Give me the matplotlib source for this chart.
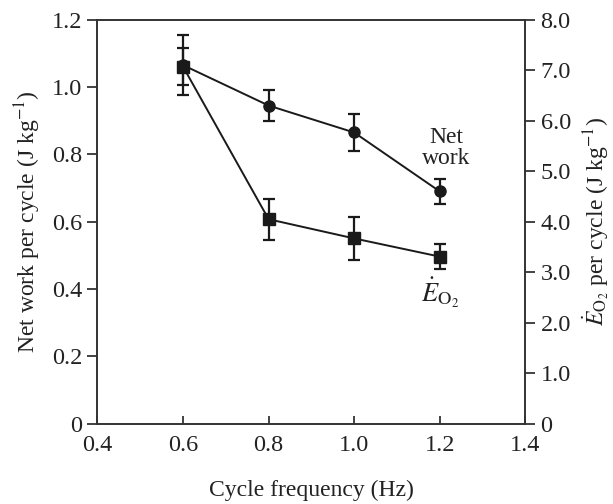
import numpy as np
import matplotlib.pyplot as plt

plt.rcParams['font.family'] = ['Liberation Serif', 'DejaVu Serif']
plt.rcParams['mathtext.fontset'] = 'stix'

freq = [0.6, 0.8, 1.0, 1.2]
net_work = [1.065, 0.945, 0.865, 0.69]
net_work_err = [0.09, 0.047, 0.055, 0.038]
e_o2 = [7.07, 4.05, 3.67, 3.31]
e_o2_err = [0.37, 0.41, 0.42, 0.25]

fig = plt.figure(figsize=(6.13, 5.04), dpi=100)
ax = fig.add_axes([0.159, 0.159, 0.698, 0.802])
ax2 = ax.twinx()

col = '#1a1a1a'
ax.errorbar(freq, net_work, yerr=net_work_err, color=col, marker='o', ms=8,
            lw=1.4, elinewidth=1.6, capsize=4, capthick=1.6, zorder=3)
ax2.errorbar(freq, e_o2, yerr=e_o2_err, color=col, marker='s', ms=8,
             lw=1.4, elinewidth=1.6, capsize=4, capthick=1.6, zorder=3)

ax.set_xlim(0.4, 1.4)
ax.set_ylim(0, 1.2)
ax2.set_ylim(0, 8.0)
ax.set_xticks([0.4, 0.6, 0.8, 1.0, 1.2, 1.4])
ax.set_xticklabels(['0.4', '0.6', '0.8', '1.0', '1.2', '1.4'])
ax.set_yticks([0, 0.2, 0.4, 0.6, 0.8, 1.0, 1.2])
ax.set_yticklabels(['0', '0.2', '0.4', '0.6', '0.8', '1.0', '1.2'])
ax2.set_yticks([0, 1, 2, 3, 4, 5, 6, 7, 8])
ax2.set_yticklabels(['0', '1.0', '2.0', '3.0', '4.0', '5.0', '6.0', '7.0', '8.0'])

for a in (ax, ax2):
    for s in a.spines.values():
        s.set_linewidth(1.2)
        s.set_color('#333333')
ax.tick_params(axis='x', direction='in', length=6, width=1.2, labelsize=17.5, pad=8, colors='#222222')
ax.tick_params(axis='y', direction='out', length=7, width=1.2, labelsize=17.5, pad=4, colors='#222222')
ax2.tick_params(axis='y', direction='out', length=7, width=1.2, labelsize=17.5, pad=4, colors='#222222')

ax.set_xlabel('Cycle frequency (Hz)', fontsize=17, labelpad=17, color='#222222')
ax.set_ylabel('Net work per cycle (J kg$^{-1}$)', fontsize=17, labelpad=6, color='#222222')
ax2.set_ylabel(r'$\dot{E}_{\mathrm{O_2}}$ per cycle (J kg$^{-1}$)', fontsize=17,
               labelpad=7, color='#222222')

ax.text(1.215, 0.82, 'Net\nwork', ha='center', va='center', fontsize=17,
        linespacing=1.0, color='#222222')
ax.text(1.2, 0.39, r'$\dot{E}_{\mathrm{O_2}}$', ha='center', va='center',
        fontsize=19, color='#222222')

fig.savefig('out.png', dpi=100)
